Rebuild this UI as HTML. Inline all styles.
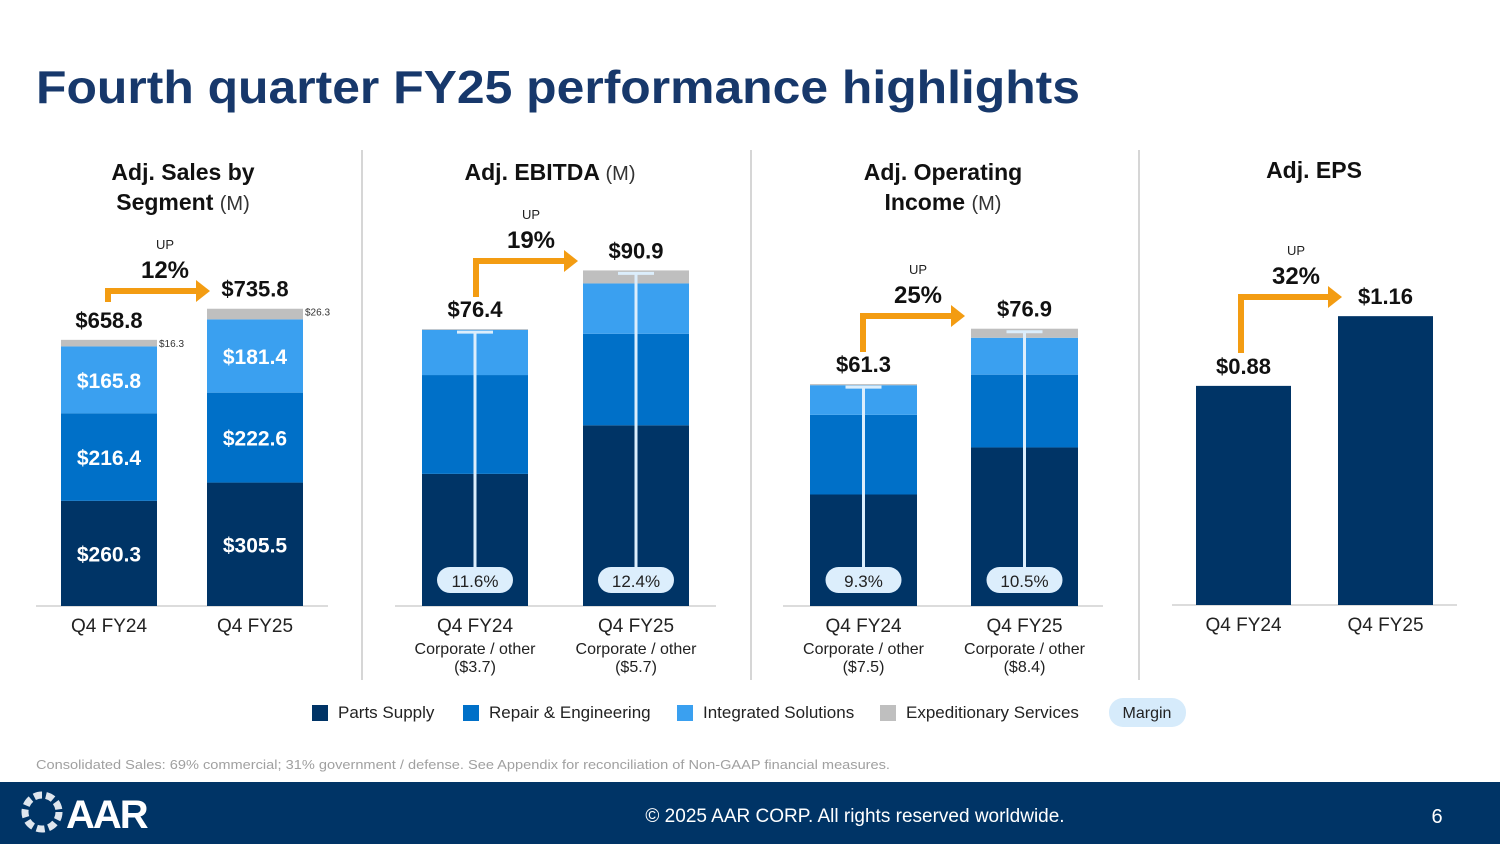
<!DOCTYPE html>
<html><head><meta charset="utf-8"><style>
body{margin:0;width:1500px;height:844px;overflow:hidden;background:#fff;font-family:"Liberation Sans",Arial,sans-serif;}
svg{position:absolute;left:0;top:0}
</style></head><body>
<svg id="s" width="1500" height="844" viewBox="0 0 1500 844">
<text x="36" y="103" font-size="46" font-weight="bold" fill="#17386b" textLength="1044" lengthAdjust="spacingAndGlyphs">Fourth quarter FY25 performance highlights</text>
<g font-weight="bold" font-size="23" fill="#111" text-anchor="middle">
<text x="183" y="180">Adj. Sales by</text>
<text x="183" y="210">Segment <tspan font-weight="normal" font-size="20" fill="#333">(M)</tspan></text>
<text x="550" y="180">Adj. EBITDA <tspan font-weight="normal" font-size="20" fill="#333">(M)</tspan></text>
<text x="943" y="180">Adj. Operating</text>
<text x="943" y="210">Income <tspan font-weight="normal" font-size="20" fill="#333">(M)</tspan></text>
<text x="1314" y="178">Adj. EPS</text>
</g>
<g stroke="#c8c8c8" stroke-width="1.5">
<line x1="362" y1="150" x2="362" y2="680"/>
<line x1="751" y1="150" x2="751" y2="680"/>
<line x1="1139" y1="150" x2="1139" y2="680"/>
</g>
<g id="charts"></g>
<g font-size="17" fill="#222">
<rect x="312" y="705" width="16" height="16" fill="#003466"/>
<text x="338" y="718">Parts Supply</text>
<rect x="463" y="705" width="16" height="16" fill="#0070c8"/>
<text x="489" y="718">Repair &amp; Engineering</text>
<rect x="677" y="705" width="16" height="16" fill="#3aa0f0"/>
<text x="703" y="718">Integrated Solutions</text>
<rect x="880" y="705" width="16" height="16" fill="#bfbfbf"/>
<text x="906" y="718">Expeditionary Services</text>
<rect x="1109" y="698" width="77" height="29" rx="14" fill="#d6ebfb"/>
<text x="1147" y="718" text-anchor="middle" font-size="16">Margin</text>
</g>
<text x="36" y="769" font-size="13" fill="#a0a0a0" textLength="854" lengthAdjust="spacingAndGlyphs">Consolidated Sales: 69% commercial; 31% government / defense. See Appendix for reconciliation of Non-GAAP financial measures.</text>
<rect x="0" y="782" width="1500" height="62" fill="#003466"/>
<g>
<circle cx="42" cy="812" r="17" fill="none" stroke="#dfe6ee" stroke-width="7" stroke-dasharray="8 4"/>
<text x="66" y="828" font-size="40" font-weight="bold" fill="#fff" letter-spacing="-2">AAR</text>
</g>
<text x="855" y="822" font-size="19" fill="#fff" text-anchor="middle">© 2025 AAR CORP. All rights reserved worldwide.</text>
<text x="1437" y="823" font-size="20" fill="#fff" text-anchor="middle">6</text>
</svg>
<script>
const periods=["Q4 FY24","Q4 FY25"];
const salesParts=[260.3,305.5], salesRE=[216.4,222.6], salesIS=[165.8,181.4], salesExp=[16.3,26.3], salesTotal=[658.8,735.8];
const ebitdaParts=[36.5,49.9], ebitdaRE=[27.3,25.3], ebitdaIS=[12.5,13.9], ebitdaExp=[0.2,3.6], ebitdaTotal=[76.4,90.9], ebitdaMargin=["11.6%","12.4%"], ebitdaCorp=["($3.7)","($5.7)"];
const opParts=[30.8,43.8], opRE=[22.0,20.1], opIS=[8.2,10.2], opExp=[0.3,2.5], opTotal=[61.3,76.9], opMargin=["9.3%","10.5%"], opCorp=["($7.5)","($8.4)"];
const epsVals=[0.88,1.16];
const growth=["12%","19%","25%","32%"];
const NS="http://www.w3.org/2000/svg", G=document.getElementById('charts');
const colors=["#003466","#0070c8","#3aa0f0","#bfbfbf"];
function el(t,a,txt){const e=document.createElementNS(NS,t);for(const k in a)e.setAttribute(k,a[k]);if(txt!=null)e.textContent=txt;G.appendChild(e);return e;}
function stacked(cfg){
 const y=v=>cfg.base-v*cfg.scale;
 const n=cfg.xs.length;
 el('line',{x1:cfg.ax[0],x2:cfg.ax[1],y1:cfg.base,y2:cfg.base,stroke:'#d0d0d0','stroke-width':1.5});
 const tops=[];
 for(let i=0;i<n;i++){
  let acc=0;
  cfg.series.forEach((s,k)=>{
   const v=s[i];
   const r=el('rect',{x:cfg.xs[i],y:y(acc+v),width:cfg.w,height:v*cfg.scale,fill:colors[k]});
   
   
   if(cfg.segLabels&&k<3){const t=el('text',{x:cfg.xs[i]+cfg.w/2,y:y(acc+v/2)+8,'text-anchor':'middle','font-size':21,'font-weight':'bold',fill:'#fff'},'$'+v.toFixed(1));
    }
   acc+=v;
  });
  tops.push(y(acc));
  const cx=cfg.xs[i]+cfg.w/2;
  const tl=el('text',{x:cfg.labelX?cfg.labelX[i]:cx,y:y(acc)-12,'text-anchor':'middle','font-size':22,'font-weight':'bold',fill:'#111'},cfg.fmt(cfg.totals[i]));
  
  const xl=el('text',{x:cx,y:cfg.base+26,'text-anchor':'middle','font-size':19,fill:'#222'},periods[i]);
  
  if(cfg.margin){
   el('line',{x1:cx,x2:cx,y1:y(acc)+3,y2:570,stroke:'#dceefc','stroke-width':3});
   el('line',{x1:cx-18,x2:cx+18,y1:y(acc)+3,y2:y(acc)+3,stroke:'#dceefc','stroke-width':3});
   el('rect',{x:cx-38,y:567,width:76,height:26,rx:13,fill:'#dceefc'});
   const m=el('text',{x:cx,y:587,'text-anchor':'middle','font-size':17,fill:'#222'},cfg.margin[i]);
   
   el('text',{x:cx,y:cfg.base+48,'text-anchor':'middle','font-size':16,fill:'#222'},'Corporate / other');
   el('text',{x:cx,y:cfg.base+66,'text-anchor':'middle','font-size':16,fill:'#222'},cfg.corp[i]);
  }
 }
 const a=cfg.arrow, ay=a.y;
 el('path',{d:`M${a.x1} ${a.y0} L${a.x1} ${ay} L${a.x2-12} ${ay}`,fill:'none',stroke:'#f39c12','stroke-width':6});
 el('path',{d:`M${a.x2-14} ${ay-11} L${a.x2} ${ay} L${a.x2-14} ${ay+11}Z`,fill:'#f39c12'});
 el('text',{x:a.tx,y:ay-42,'text-anchor':'middle','font-size':13,fill:'#222'},'UP');
 const g=el('text',{x:a.tx,y:ay-13,'text-anchor':'middle','font-size':24,'font-weight':'bold',fill:'#111'},a.g);
 
}
stacked({id:'sales',base:606,scale:0.404,xs:[61,207],w:96,ax:[36,328],series:[salesParts,salesRE,salesIS,salesExp],totals:salesTotal,fmt:v=>'$'+v.toFixed(1),segLabels:true,labelX:[109,255],
 arrow:{x1:108,y0:302,x2:210,y:291,tx:165,g:growth[0]}});
[0,1].forEach(i=>{const top=606-(salesParts[i]+salesRE[i]+salesIS[i]+salesExp[i])*0.404;
 const t=el('text',{x:[159,305][i],y:top+7,'font-size':10,fill:'#333'},'$'+salesExp[i].toFixed(1));
 });
stacked({id:'ebitda',base:606,scale:3.62,xs:[422,583],w:106,ax:[395,716],series:[ebitdaParts,ebitdaRE,ebitdaIS,ebitdaExp],totals:ebitdaTotal,fmt:v=>'$'+v.toFixed(1),margin:ebitdaMargin,corp:ebitdaCorp,
 arrow:{x1:476,y0:297,x2:578,y:261,tx:531,g:growth[1]}});
stacked({id:'opinc',base:606,scale:3.62,xs:[810,971],w:107,ax:[783,1103],series:[opParts,opRE,opIS,opExp],totals:opTotal,fmt:v=>'$'+v.toFixed(1),margin:opMargin,corp:opCorp,
 arrow:{x1:863,y0:352,x2:965,y:316,tx:918,g:growth[2]}});
stacked({id:'eps',base:605,scale:249,xs:[1196,1338],w:95,ax:[1172,1457],series:[epsVals],totals:epsVals,fmt:v=>'$'+v.toFixed(2),
 arrow:{x1:1241,y0:353,x2:1342,y:297,tx:1296,g:growth[3]}});
</script>
</body></html>
